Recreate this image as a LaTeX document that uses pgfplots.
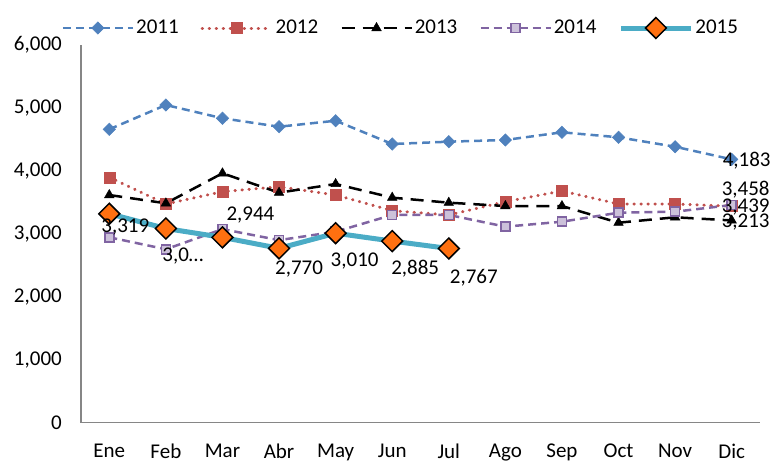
\documentclass[border=0pt]{standalone}
\usepackage{fontspec}
\setmainfont{Carlito}
\usepackage{pgfplots}
\usepackage{pgfplotstable}
\pgfplotsset{compat=1.18}
\definecolor{c11}{HTML}{4F81BD}
\definecolor{c12}{HTML}{C0504D}
\definecolor{c14}{HTML}{8064A2}
\definecolor{c14f}{HTML}{CCC1DA}
\definecolor{c15}{HTML}{4BACC6}
\definecolor{c15m}{HTML}{FF7010}
\definecolor{axgray}{HTML}{868686}

\pgfplotstableread{
x y lab dx dy
0 3319 3,319 16 -13
1 3085 3,0… 17 -28
2 2944 2,944 28 22
3 2770 2,770 20 -21
4 3010 3,010 19 -28
5 2885 2,885 23 -28
6 2767 2,767 25 -29
}\tabB

\begin{document}
\fontsize{21}{24}\selectfont
\begin{tikzpicture}[font=\fontsize{21}{24}\selectfont]
\path[use as bounding box] (-81pt,-39.3pt) rectangle (699pt,422.7pt);
\begin{axis}[
 scale only axis, width=679pt, height=377.7pt,
 xmin=-0.5, xmax=11.5, ymin=0, ymax=6000,
 xtick={0,...,11},
 xticklabels={Ene,Feb,Mar,Abr,May,Jun,Jul,Ago,Sep,Oct,Nov,Dic},
 ytick={0,1000,...,6000},
 axis x line*=bottom, axis y line*=left,
 axis line style={axgray, line width=1.3pt, -},
 major tick length=0pt,
 /pgf/number format/assume math mode=true,
 /pgf/number format/1000 sep={,},
 scaled y ticks=false,
 tick label style={font=\fontsize{21}{24}\selectfont},
 xticklabel style={inner sep=1pt, yshift=-20pt},
 yticklabel style={xshift=-12pt},
 legend columns=5,
 legend style={draw=none, fill=none, at={(0.471,1)}, anchor=center, yshift=17pt,
   font=\fontsize{21}{24}\selectfont,
   /tikz/every even column/.append style={column sep=20pt}},
 legend image code/.code={\draw[mark repeat=2,mark phase=2,#1] plot coordinates {(0pt,0pt)(35pt,0pt)(70pt,0pt)};},
 clip=false,
]
\addplot[c11, line width=2.5pt, dash pattern=on 8pt off 5pt, mark=square*, mark size=4.4pt,
  mark options={solid, rotate=45, fill=c11, draw=c11, line width=0.5pt}]
 coordinates {(0,4661)(1,5047)(2,4836)(3,4702)(4,4797)(5,4427)(6,4464)(7,4491)(8,4613)(9,4534)(10,4384)(11,4183)};
\addlegendentry{2011}
\addplot[c12, line width=3pt, line cap=round, dash pattern=on 0.5pt off 6.5pt, mark=square*, mark size=5.5pt,
  mark options={solid, fill=c12, draw=c12, line width=0.5pt}]
 coordinates {(0,3898)(1,3474)(2,3670)(3,3749)(4,3617)(5,3368)(6,3300)(7,3511)(8,3681)(9,3474)(10,3474)(11,3439)};
\addlegendentry{2012}
\addplot[black, line width=2.5pt, dash pattern=on 13pt off 8pt, mark=triangle*, mark size=5.5pt,
  mark options={solid, fill=black, line width=0.5pt}]
 coordinates {(0,3617)(1,3485)(2,3962)(3,3654)(4,3792)(5,3575)(6,3495)(7,3442)(8,3442)(9,3177)(10,3263)(11,3213)};
\addlegendentry{2013}
\addplot[c14, line width=2.5pt, dash pattern=on 8pt off 5pt, mark=square*, mark size=4.5pt,
  mark options={solid, fill=c14f, draw=c14, line width=1.5pt}]
 coordinates {(0,2945)(1,2755)(2,3075)(3,2900)(4,3034)(5,3300)(6,3300)(7,3114)(8,3193)(9,3336)(10,3352)(11,3458)};
\addlegendentry{2014}
\addplot[c15, line width=5pt, mark=square*, mark size=7.4pt,
  mark options={solid, rotate=45, fill=c15m, draw=black, line width=1.5pt},
  point meta=explicit symbolic, nodes near coords,
  visualization depends on={\thisrow{dx}\as\dx},
  visualization depends on={\thisrow{dy}\as\dy},
  every node near coord/.append style={anchor=center, xshift=\dx pt, yshift=\dy pt, text=black,
    font=\fontsize{21}{24}\selectfont}]
 table[x=x, y=y, meta=lab] {\tabB};
\addlegendentry{2015}
\addplot[forget plot, draw=none, mark=none, nodes near coords, point meta=explicit symbolic,
  every node near coord/.append style={anchor=center, xshift=15pt, yshift=-1pt, text=black}]
 coordinates {(11,4183) [4,183]};
\addplot[forget plot, draw=none, mark=none, nodes near coords, point meta=explicit symbolic,
  every node near coord/.append style={anchor=center, xshift=14pt, yshift=15pt, text=black}]
 coordinates {(11,3458) [3,458]};
\addplot[forget plot, draw=none, mark=none, nodes near coords, point meta=explicit symbolic,
  every node near coord/.append style={anchor=center, xshift=14pt, yshift=-1pt, text=black}]
 coordinates {(11,3439) [3,439]};
\addplot[forget plot, draw=none, mark=none, nodes near coords, point meta=explicit symbolic,
  every node near coord/.append style={anchor=center, xshift=14pt, yshift=-2pt, text=black}]
 coordinates {(11,3213) [3,213]};
\end{axis}
\end{tikzpicture}
\end{document}
